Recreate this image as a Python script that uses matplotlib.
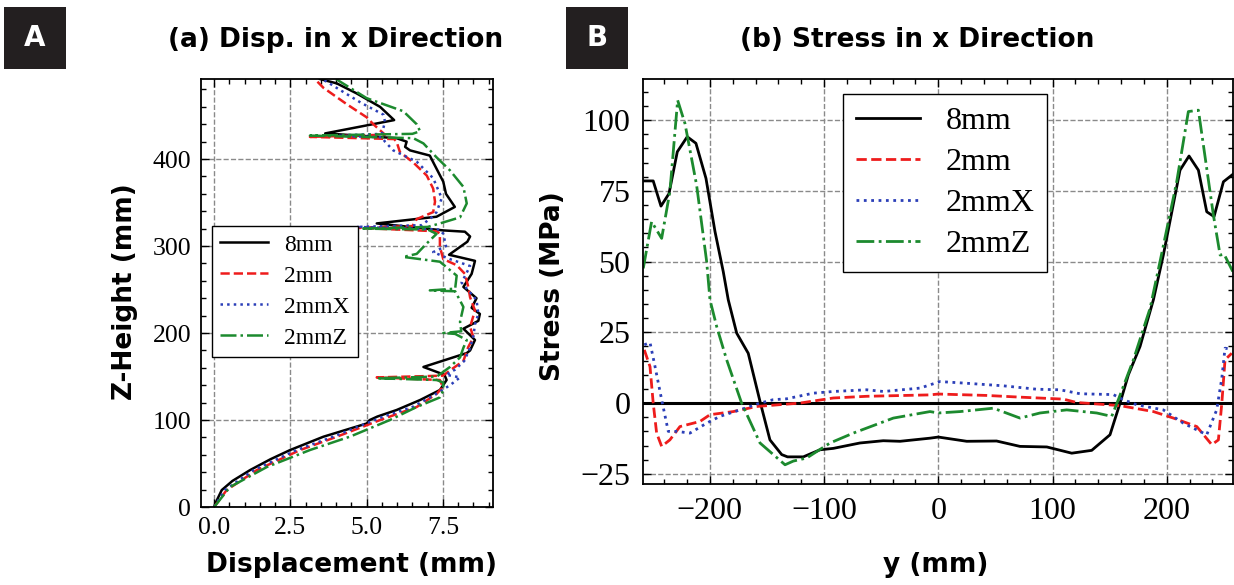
import matplotlib
matplotlib.use("Agg")
import matplotlib.pyplot as plt
from matplotlib.patches import Rectangle
from matplotlib.ticker import MultipleLocator

# ---- (a) displacement in x vs Z-height ----
z_8mm = [0, 5, 19.5, 30, 42.5, 55, 65.5, 80.8, 96, 100, 104, 111.5, 123, 134.5, 146, 152,
         161, 177, 180, 192, 205, 214, 222, 229, 240, 253, 268, 276, 283, 290, 305, 311,
         316.5, 318, 326, 333.7, 345, 360, 374, 395, 404, 410, 414, 420, 424, 429.5,
         444.8, 460, 475.5, 487, 492]
d_8mm = [0, 0.05, 0.25, 0.6, 1.18, 1.85, 2.49, 3.58, 5.0, 5.1, 5.35, 5.98, 6.75, 7.4, 7.62, 7.55,
         6.86, 8.28, 8.39, 8.55, 8.17, 8.66, 8.71, 8.44, 8.6, 8.17, 8.44, 8.5, 8.55, 7.7, 8.3, 8.39,
         8.22, 7.51, 5.33, 7.29, 7.89, 7.6, 7.51, 7.2, 7.07, 6.42, 6.26, 6.31, 5.98, 3.64,
         5.9, 5.44, 4.67, 4.02, 3.47]

z_2mm = [0, 19.5, 42.5, 65.5, 80.8, 100, 115, 130, 138, 146, 149, 151, 157, 168, 184, 195,
         207, 226, 241, 253, 268, 278, 285, 299, 314, 317, 321, 323, 331, 339, 351, 366, 381,
         396, 408, 420, 423, 425.5, 428, 440, 448, 463, 482, 492]
d_2mm = [0, 0.41, 1.4, 2.82, 4.02, 5.44, 6.64, 7.29, 7.5, 7.4, 5.33, 7.5, 7.73, 8.17, 8.33, 8.5,
         8.39, 8.55, 8.39, 8.33, 8.22, 7.95, 7.51, 7.4, 7.4, 7.3, 4.67, 6.5, 6.64, 7.18, 7.24, 7.18, 6.97,
         6.53, 6.09, 5.98, 5.9, 3.14, 5.6, 5.22, 5.0, 4.35, 3.58, 3.3]

z_2mmX = [0, 19.5, 42.5, 65.5, 80.8, 104, 115, 128, 140, 149, 152, 158, 168, 184, 197, 210,
          222, 238, 258, 277, 285, 293, 300, 314, 319, 322, 324, 332, 339, 355, 378, 397, 410,
          420, 425, 427, 429, 443, 451, 465, 480, 489, 492]
d_2mmX = [0, 0.35, 1.3, 2.7, 3.9, 5.55, 6.5, 7.18, 7.73, 8.06, 7.6, 7.9, 8.2, 8.4, 8.5, 8.55,
          8.66, 8.6, 8.11, 8.39, 7.73, 7.18, 7.6, 7.51, 7.4, 4.67, 6.8, 7.1, 7.29, 7.46, 7.18, 6.64, 5.87,
          5.6, 5.5, 3.96, 5.5, 5.6, 5.55, 4.8, 4.1, 3.69, 3.5]

z_2mmZ = [0, 23, 46, 65.5, 81, 100, 115, 126, 134, 143, 146, 148, 150, 161, 172, 183, 192,
          199, 200, 202, 213, 230, 248, 249, 251, 266, 282, 287.5, 291, 303, 314, 319, 320, 322,
          326, 333, 349, 368, 387, 402, 418, 424, 427, 429, 432, 440, 455, 470, 489, 492]
d_2mmZ = [0, 0.52, 1.73, 3.14, 4.46, 5.76, 6.64, 7.4, 7.51, 7.51, 7.3, 5.33, 7.3, 7.73, 8.06, 8.17, 8.28,
          7.9, 7.51, 8.1, 8.06, 8.17, 7.9, 7.07, 7.9, 7.95, 7.4, 6.2, 6.64, 6.97, 7.29, 7.0, 4.89, 7.0,
          7.4, 8.06, 8.28, 8.17, 7.73, 7.29, 6.86, 6.53, 3.14, 6.5, 6.75, 6.64, 6.2, 5.0, 4.13, 4.0]

# ---- (b) stress in x vs y ----
y_8mm = [-258.3, -249.6, -242.8, -235.8, -228.5, -219.8, -212.2, -203.4, -195.5, -188.3, -183.9,
         -176.5, -166.4, -156.1, -147.4, -137.1, -132, -118.2, -103.6, -91.9, -68.6, -48.2, -33.5,
         -7.3, 0, 24.9, 51, 71.5, 95, 116.8, 134.3, 150.3, 159.1, 166.4, 176.6, 188.3, 197, 211.6,
         219.5, 227.7, 235, 241.4, 249.6, 257.8]
s_8mm = [78.5, 78.5, 69.6, 74, 88.8, 94.1, 91.8, 79.4, 60.6, 46.5, 36.5,
         24.7, 17.6, 0.6, -13, -18.2, -19, -19, -16.5, -16, -14.1, -13.3, -13.5,
         -12.4, -12, -13.5, -13.4, -15.3, -15.5, -17.7, -16.7, -11.2, 0, 10, 20, 36.5, 52.3, 82.3,
         87.3, 82.3, 67.6, 65.9, 78.2, 80.8]

y_2mm = [-257.4, -252.4, -249.6, -246.6, -242.2, -235, -226.2, -208.7, -199.9, -179.5, -159,
         -121.1, -91.9, -62.7, -7.3, 0, 42.4, 71.5, 109.5, 121.2, 159.1, 188.3, 205.8, 226.3,
         239.4, 245.2, 248.2, 251, 256.9]
s_2mm = [18.8, 12.9, 0, -10.6, -15.3, -13, -8.3, -6.5, -4.1, -3, -1.2,
         0, 1.8, 2.4, 2.9, 3.2, 2.7, 2.1, 1.4, 0.2, -0.9, -3, -5.3, -8.3,
         -14.7, -13, 0, 15.3, 17.6]

y_2mmX = [-257.4, -252.4, -248, -242.2, -236.4, -229, -217.4, -202.8, -191.2, -173.7, -156,
          -144.5, -133, -109.5, -91.9, -62.7, -48, -16, 1.5, 24.9, 57, 86.1, 106.6, 124, 153.2,
          162, 173.7, 197, 214.5, 235, 243.7, 248.2, 251, 256.9]
s_2mmX = [20.6, 21.4, 12.9, 1.2, -10, -10, -10.6, -7.1, -4.7, -2.4, 0,
          1.2, 1.5, 3.5, 4.1, 4.7, 4.1, 5.3, 7.6, 7, 6.1, 4.9, 4.7, 3.3, 3,
          1.2, -0.6, -2.4, -7.1, -11.2, -2.4, 8.8, 19.4, 19]

y_2mmZ = [-258.3, -251, -242.2, -235, -228.2, -221.8, -211.6, -202.8, -199.9, -194, -185.3,
          -172.2, -156.1, -134.2, -127, -115.2, -94.8, -74.4, -39.4, -7.3, 0, 19, 48.2, 71.5, 89,
          112.4, 138.7, 151.8, 157.6, 170.8, 185.4, 194.1, 208.7, 218.9, 227.7, 240.8, 246.7,
          250.2, 257.8]
s_2mmZ = [47.6, 64.1, 58.2, 74.7, 107, 98.8, 77, 50, 36.5, 27, 15.3,
          0, -14.1, -21.8, -20.5, -19.4, -14.1, -10.6, -5.3, -3, -3.5, -3, -1.8, -5.3, -3.5,
          -2.4, -3.5, -4.7, 1.2, 15.3, 33.5, 50, 78.2, 103, 103.5, 66.5, 52.3,
          52.6, 46.5]

labels = ["8mm", "2mm", "2mmX", "2mmZ"]
colors = ["black", "#ee1c1c", "#2b3fb8", "#1c8a2e"]
styles = ["-", "--", ":", "-."]

serif = ["Liberation Serif", "DejaVu Serif"]
sans = ["DejaVu Sans"]

fig = plt.figure(figsize=(12.34, 5.85), dpi=100)


def style_axes(ax, size):
    ax.grid(True, which="major", linestyle="--", color="#8a8a8a", linewidth=1.0)
    ax.set_axisbelow(True)
    ax.tick_params(which="both", direction="in", top=True, right=True, width=1.0)
    ax.tick_params(which="major", length=6, labelsize=size, pad=7)
    ax.tick_params(which="minor", length=3.5)
    for sp in ax.spines.values():
        sp.set_linewidth(1.3)
    for lab in ax.get_xticklabels() + ax.get_yticklabels():
        lab.set_fontfamily(serif)


# panel (a)
ax1 = fig.add_axes([0.1629, 0.1333, 0.2366, 0.7316])
series_a = [(d_8mm, z_8mm), (d_2mm, z_2mm), (d_2mmX, z_2mmX), (d_2mmZ, z_2mmZ)]
for (d, z), lab, c, ls in zip(series_a, labels, colors, styles):
    ax1.plot(d, z, ls, color=c, lw=1.8, label=lab)
ax1.set_xlim(-0.43, 9.14)
ax1.set_ylim(0, 492)
ax1.xaxis.set_major_locator(MultipleLocator(2.5))
ax1.xaxis.set_minor_locator(MultipleLocator(0.5))
ax1.yaxis.set_major_locator(MultipleLocator(100))
ax1.yaxis.set_minor_locator(MultipleLocator(20))
ax1.xaxis.set_major_formatter(matplotlib.ticker.FormatStrFormatter("%.1f"))
style_axes(ax1, 18.5)
leg1 = ax1.legend(loc="upper left", bbox_to_anchor=(0.038, 0.657), borderaxespad=0,
                  prop={"family": serif, "size": 17}, fancybox=False, edgecolor="black",
                  framealpha=1, handlelength=2.0, labelspacing=0.4, handletextpad=0.7,
                  borderpad=0.35)
leg1.get_frame().set_linewidth(1.0)

# panel (b)
ax2 = fig.add_axes([0.5211, 0.1726, 0.4781, 0.6923])
ax2.axhline(0, color="black", lw=2.2, zorder=1.5)
series_b = [(y_8mm, s_8mm), (y_2mm, s_2mm), (y_2mmX, s_2mmX), (y_2mmZ, s_2mmZ)]
for (y, s), lab, c, ls in zip(series_b, labels, colors, styles):
    ax2.plot(y, s, ls, color=c, lw=2.0, label=lab)
ax2.set_xlim(-258.5, 258)
ax2.set_ylim(-28.6, 114.5)
ax2.xaxis.set_major_locator(MultipleLocator(100))
ax2.xaxis.set_minor_locator(MultipleLocator(20))
ax2.yaxis.set_major_locator(MultipleLocator(25))
ax2.yaxis.set_minor_locator(MultipleLocator(5))
style_axes(ax2, 23)
ax2.tick_params(which="major", pad=9)
leg2 = ax2.legend(loc="upper left", bbox_to_anchor=(0.339, 0.963), borderaxespad=0,
                  prop={"family": serif, "size": 23}, fancybox=False, edgecolor="black",
                  framealpha=1, handlelength=2.0, labelspacing=0.36, handletextpad=0.8,
                  borderpad=0.4)
leg2.get_frame().set_linewidth(1.0)

# labels and titles
fig.text(336 / 1234, 1 - 40 / 585, "(a) Disp. in x Direction", family=sans,
         fontweight="bold", fontsize=19, ha="center", va="center")
fig.text(917 / 1234, 1 - 40 / 585, "(b) Stress in x Direction", family=sans,
         fontweight="bold", fontsize=19, ha="center", va="center")
fig.text(352 / 1234, 1 - 565 / 585, "Displacement (mm)", family=sans,
         fontweight="bold", fontsize=19, ha="center", va="center")
fig.text(936 / 1234, 1 - 565 / 585, "y (mm)", family=sans,
         fontweight="bold", fontsize=19, ha="center", va="center")
fig.text(125 / 1234, 1 - 292 / 585, "Z-Height (mm)", family=sans, rotation=90,
         fontweight="bold", fontsize=19, ha="center", va="center")
fig.text(553 / 1234, 1 - 286 / 585, "Stress (MPa)", family=sans, rotation=90,
         fontweight="bold", fontsize=19, ha="center", va="center")

# panel letter boxes
for x0, letter in [(4, "A"), (566, "B")]:
    fig.add_artist(Rectangle((x0 / 1234, 1 - 69 / 585), 62 / 1234, 62 / 585,
                             transform=fig.transFigure, facecolor="#231f20", edgecolor="none"))
    fig.text((x0 + 31) / 1234, 1 - 38 / 585, letter, family=sans, color="white",
             fontweight="bold", fontsize=20, ha="center", va="center")

fig.savefig("out.png", dpi=100)
